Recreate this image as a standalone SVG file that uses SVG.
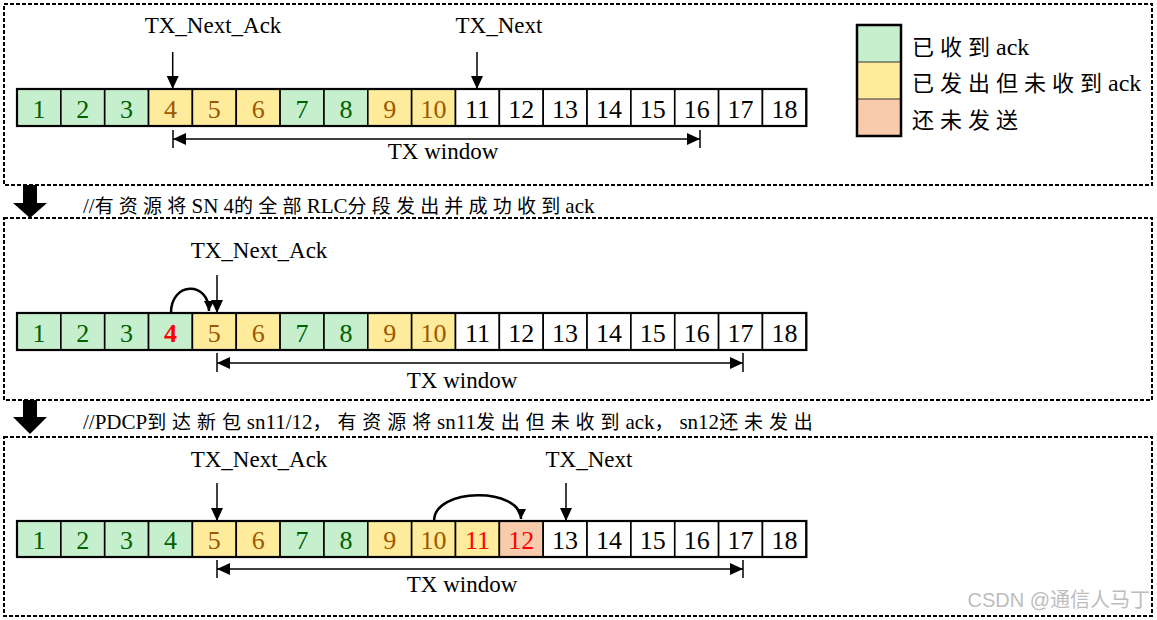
<svg xmlns="http://www.w3.org/2000/svg" width="1157" height="620" viewBox="0 0 1157 620">
<style>
.panel{fill:none;stroke:#000;stroke-width:2;stroke-dasharray:4 2}
.cell{stroke:#000;stroke-width:1.6}
.g{fill:#C6EFCE}.y{fill:#FFEB9C}.p{fill:#F8CBAD}.w{fill:#fff}
.num{font-family:"Liberation Serif",serif;font-size:26px;text-anchor:middle}
.tg{fill:#006100}.ty{fill:#9C5700}.tb{fill:#000}.tr{fill:#FF0000}
.lbl{font-family:"Liberation Serif",serif;font-size:23px;fill:#000;text-anchor:middle}
.ptr{stroke:#000;stroke-width:1.5;fill:none}
.curve{stroke:#000;stroke-width:2.5;fill:none}
.note{font-family:"Liberation Serif","Noto Sans CJK SC",serif;font-size:21px;fill:#000}
.cjk{font-family:"Noto Sans CJK SC",sans-serif;font-size:19px}
.s1{letter-spacing:5.2px}.s2{letter-spacing:5.9px}
.leg{font-family:"Liberation Serif","Noto Sans CJK SC",serif;font-size:24px;fill:#000}
.lcjk{font-family:"Noto Sans CJK SC",sans-serif;font-size:22px;letter-spacing:6px}
.block{fill:#000}
</style>
<defs>
<marker id="ah" markerUnits="userSpaceOnUse" markerWidth="14" markerHeight="14" refX="13" refY="6" orient="auto-start-reverse">
<path d="M0,0 L13,6 L0,12 z" fill="#000"/>
</marker>
<marker id="ahc" markerUnits="userSpaceOnUse" markerWidth="12" markerHeight="12" refX="10" refY="5" orient="auto">
<path d="M0,0 L10,5 L0,10 z" fill="#000"/>
</marker>
</defs>

<!-- Panels -->
<g id="panels">
<rect class="panel" x="4" y="4" width="1148" height="181"/>
<rect class="panel" x="4" y="218" width="1148" height="182"/>
<rect class="panel" x="4" y="437" width="1148" height="179"/>
</g>

<!-- Legend -->
<g id="legend">
<rect class="g" x="857" y="25" width="44" height="37"/>
<rect class="y" x="857" y="62" width="44" height="37"/>
<rect class="p" x="857" y="99" width="44" height="37"/>
<line x1="857" y1="62" x2="901" y2="62" stroke="#333" stroke-width="1.2"/>
<line x1="857" y1="99" x2="901" y2="99" stroke="#333" stroke-width="1.2"/>
<rect x="857" y="25" width="44" height="111" fill="none" stroke="#000" stroke-width="2.5"/>
<text class="leg" x="912" y="55"><tspan class="lcjk">已收到</tspan>ack</text>
<text class="leg" x="912" y="91"><tspan class="lcjk">已发出但未收到</tspan>ack</text>
<text class="leg" x="912" y="128"><tspan class="lcjk">还未发送</tspan></text>
</g>

<!-- Row 1 -->
<g id="row1" transform="translate(0,89)">
<rect class="cell g" x="17" y="0" width="43.85" height="37"/>
<rect class="cell g" x="60.85" y="0" width="43.85" height="37"/>
<rect class="cell g" x="104.7" y="0" width="43.85" height="37"/>
<rect class="cell y" x="148.55" y="0" width="43.85" height="37"/>
<rect class="cell y" x="192.4" y="0" width="43.85" height="37"/>
<rect class="cell y" x="236.25" y="0" width="43.85" height="37"/>
<rect class="cell g" x="280.1" y="0" width="43.85" height="37"/>
<rect class="cell g" x="323.95" y="0" width="43.85" height="37"/>
<rect class="cell y" x="367.8" y="0" width="43.85" height="37"/>
<rect class="cell y" x="411.65" y="0" width="43.85" height="37"/>
<rect class="cell w" x="455.5" y="0" width="43.85" height="37"/>
<rect class="cell w" x="499.35" y="0" width="43.85" height="37"/>
<rect class="cell w" x="543.2" y="0" width="43.85" height="37"/>
<rect class="cell w" x="587.05" y="0" width="43.85" height="37"/>
<rect class="cell w" x="630.9" y="0" width="43.85" height="37"/>
<rect class="cell w" x="674.75" y="0" width="43.85" height="37"/>
<rect class="cell w" x="718.6" y="0" width="43.85" height="37"/>
<rect class="cell w" x="762.45" y="0" width="43.85" height="37"/>
<rect x="17" y="0" width="789.3" height="37" fill="none" stroke="#000" stroke-width="2.2"/>
<text class="num tg" x="38.9" y="29">1</text>
<text class="num tg" x="82.8" y="29">2</text>
<text class="num tg" x="126.6" y="29">3</text>
<text class="num ty" x="170.5" y="29">4</text>
<text class="num ty" x="214.3" y="29">5</text>
<text class="num ty" x="258.2" y="29">6</text>
<text class="num tg" x="302" y="29">7</text>
<text class="num tg" x="345.9" y="29">8</text>
<text class="num ty" x="389.7" y="29">9</text>
<text class="num ty" x="433.6" y="29">10</text>
<text class="num tb" x="477.4" y="29">11</text>
<text class="num tb" x="521.3" y="29">12</text>
<text class="num tb" x="565.1" y="29">13</text>
<text class="num tb" x="609" y="29">14</text>
<text class="num tb" x="652.8" y="29">15</text>
<text class="num tb" x="696.7" y="29">16</text>
<text class="num tb" x="740.5" y="29">17</text>
<text class="num tb" x="784.4" y="29">18</text>
</g>

<!-- Row 2 -->
<g id="row2" transform="translate(0,313)">
<rect class="cell g" x="17" y="0" width="43.85" height="37"/>
<rect class="cell g" x="60.85" y="0" width="43.85" height="37"/>
<rect class="cell g" x="104.7" y="0" width="43.85" height="37"/>
<rect class="cell g" x="148.55" y="0" width="43.85" height="37"/>
<rect class="cell y" x="192.4" y="0" width="43.85" height="37"/>
<rect class="cell y" x="236.25" y="0" width="43.85" height="37"/>
<rect class="cell g" x="280.1" y="0" width="43.85" height="37"/>
<rect class="cell g" x="323.95" y="0" width="43.85" height="37"/>
<rect class="cell y" x="367.8" y="0" width="43.85" height="37"/>
<rect class="cell y" x="411.65" y="0" width="43.85" height="37"/>
<rect class="cell w" x="455.5" y="0" width="43.85" height="37"/>
<rect class="cell w" x="499.35" y="0" width="43.85" height="37"/>
<rect class="cell w" x="543.2" y="0" width="43.85" height="37"/>
<rect class="cell w" x="587.05" y="0" width="43.85" height="37"/>
<rect class="cell w" x="630.9" y="0" width="43.85" height="37"/>
<rect class="cell w" x="674.75" y="0" width="43.85" height="37"/>
<rect class="cell w" x="718.6" y="0" width="43.85" height="37"/>
<rect class="cell w" x="762.45" y="0" width="43.85" height="37"/>
<rect x="17" y="0" width="789.3" height="37" fill="none" stroke="#000" stroke-width="2.2"/>
<text class="num tg" x="38.9" y="29">1</text>
<text class="num tg" x="82.8" y="29">2</text>
<text class="num tg" x="126.6" y="29">3</text>
<text class="num tr" x="170.5" y="29" font-weight="bold">4</text>
<text class="num ty" x="214.3" y="29">5</text>
<text class="num ty" x="258.2" y="29">6</text>
<text class="num tg" x="302" y="29">7</text>
<text class="num tg" x="345.9" y="29">8</text>
<text class="num ty" x="389.7" y="29">9</text>
<text class="num ty" x="433.6" y="29">10</text>
<text class="num tb" x="477.4" y="29">11</text>
<text class="num tb" x="521.3" y="29">12</text>
<text class="num tb" x="565.1" y="29">13</text>
<text class="num tb" x="609" y="29">14</text>
<text class="num tb" x="652.8" y="29">15</text>
<text class="num tb" x="696.7" y="29">16</text>
<text class="num tb" x="740.5" y="29">17</text>
<text class="num tb" x="784.4" y="29">18</text>
</g>

<!-- Row 3 -->
<g id="row3" transform="translate(0,521)">
<rect class="cell g" x="17" y="0" width="43.85" height="36"/>
<rect class="cell g" x="60.85" y="0" width="43.85" height="36"/>
<rect class="cell g" x="104.7" y="0" width="43.85" height="36"/>
<rect class="cell g" x="148.55" y="0" width="43.85" height="36"/>
<rect class="cell y" x="192.4" y="0" width="43.85" height="36"/>
<rect class="cell y" x="236.25" y="0" width="43.85" height="36"/>
<rect class="cell g" x="280.1" y="0" width="43.85" height="36"/>
<rect class="cell g" x="323.95" y="0" width="43.85" height="36"/>
<rect class="cell y" x="367.8" y="0" width="43.85" height="36"/>
<rect class="cell y" x="411.65" y="0" width="43.85" height="36"/>
<rect class="cell y" x="455.5" y="0" width="43.85" height="36"/>
<rect class="cell p" x="499.35" y="0" width="43.85" height="36"/>
<rect class="cell w" x="543.2" y="0" width="43.85" height="36"/>
<rect class="cell w" x="587.05" y="0" width="43.85" height="36"/>
<rect class="cell w" x="630.9" y="0" width="43.85" height="36"/>
<rect class="cell w" x="674.75" y="0" width="43.85" height="36"/>
<rect class="cell w" x="718.6" y="0" width="43.85" height="36"/>
<rect class="cell w" x="762.45" y="0" width="43.85" height="36"/>
<rect x="17" y="0" width="789.3" height="36" fill="none" stroke="#000" stroke-width="2.2"/>
<text class="num tg" x="38.9" y="28">1</text>
<text class="num tg" x="82.8" y="28">2</text>
<text class="num tg" x="126.6" y="28">3</text>
<text class="num tg" x="170.5" y="28">4</text>
<text class="num ty" x="214.3" y="28">5</text>
<text class="num ty" x="258.2" y="28">6</text>
<text class="num tg" x="302" y="28">7</text>
<text class="num tg" x="345.9" y="28">8</text>
<text class="num ty" x="389.7" y="28">9</text>
<text class="num ty" x="433.6" y="28">10</text>
<text class="num tr" x="477.4" y="28">11</text>
<text class="num tr" x="521.3" y="28">12</text>
<text class="num tb" x="565.1" y="28">13</text>
<text class="num tb" x="609" y="28">14</text>
<text class="num tb" x="652.8" y="28">15</text>
<text class="num tb" x="696.7" y="28">16</text>
<text class="num tb" x="740.5" y="28">17</text>
<text class="num tb" x="784.4" y="28">18</text>
</g>

<!-- Labels -->
<g id="labels">
<text class="lbl" x="213" y="33">TX_Next_Ack</text>
<text class="lbl" x="499" y="33">TX_Next</text>
<text class="lbl" x="443" y="159">TX window</text>
<text class="lbl" x="259" y="258">TX_Next_Ack</text>
<text class="lbl" x="462" y="388">TX window</text>
<text class="lbl" x="259" y="467">TX_Next_Ack</text>
<text class="lbl" x="589" y="467">TX_Next</text>
<text class="lbl" x="462" y="592">TX window</text>
</g>

<!-- Notes between panels -->
<g id="notes">
<text class="note" x="83" y="213">//<tspan class="cjk s1">有资源将</tspan>SN 4<tspan class="cjk s1">的全部</tspan>RLC<tspan class="cjk s1">分段发出并成功收到</tspan>ack</text>
<text class="note" x="83" y="429">//PDCP<tspan class="cjk s2">到达新包</tspan>sn11/12<tspan class="cjk s2">，有资源将</tspan>sn11<tspan class="cjk s2">发出但未收到</tspan>ack<tspan class="cjk s2">，</tspan>sn12<tspan class="cjk s2">还未发出</tspan></text>
<polygon class="block" points="23,185 37,185 37,203 47,203 30,218 13,203 23,203"/>
<polygon class="block" points="23,400 37,400 37,417 47,417 30,434 13,417 23,417"/>
</g>

<!-- Connectors -->
<g id="connectors">
<line class="ptr" x1="172.7" y1="52" x2="172.7" y2="89" marker-end="url(#ah)"/>
<line class="ptr" x1="477" y1="52" x2="477" y2="89" marker-end="url(#ah)"/>
<line class="ptr" x1="173" y1="139" x2="700" y2="139" marker-start="url(#ah)" marker-end="url(#ah)"/>
<line class="ptr" x1="173" y1="130" x2="173" y2="148"/>
<line class="ptr" x1="700" y1="130" x2="700" y2="148"/>

<line class="ptr" x1="217" y1="275" x2="217" y2="313" marker-end="url(#ah)"/>
<path class="curve" d="M171,313 C171,281 209,281 209,311" marker-end="url(#ahc)"/>
<line class="ptr" x1="217" y1="363" x2="743" y2="363" marker-start="url(#ah)" marker-end="url(#ah)"/>
<line class="ptr" x1="217" y1="353" x2="217" y2="372"/>
<line class="ptr" x1="743" y1="353" x2="743" y2="372"/>

<line class="ptr" x1="217" y1="483" x2="217" y2="521" marker-end="url(#ah)"/>
<line class="ptr" x1="566" y1="483" x2="566" y2="521" marker-end="url(#ah)"/>
<path class="curve" d="M434,521 C434,487 521,487 521,519" marker-end="url(#ahc)"/>
<line class="ptr" x1="217" y1="569" x2="743" y2="569" marker-start="url(#ah)" marker-end="url(#ah)"/>
<line class="ptr" x1="217" y1="560" x2="217" y2="578"/>
<line class="ptr" x1="743" y1="560" x2="743" y2="578"/>
</g>

<text x="1150" y="607" font-family="'Liberation Sans','Noto Sans CJK SC',sans-serif" font-size="20" fill="#BDBDBD" text-anchor="end">CSDN @通信人马丁</text>
</svg>
